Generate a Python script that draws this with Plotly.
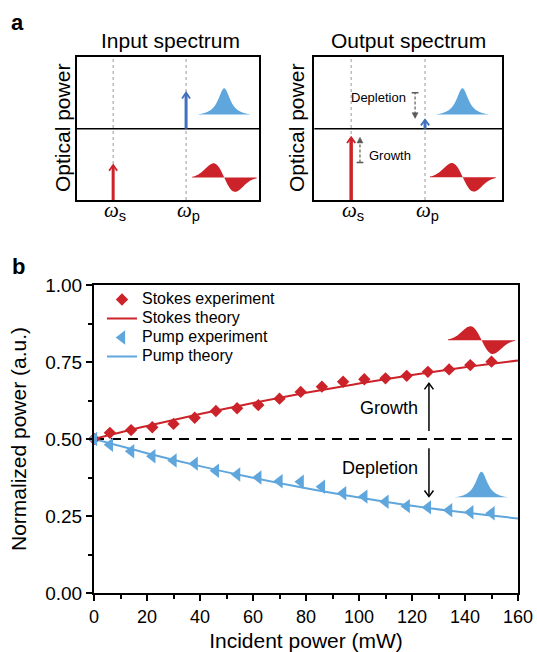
import numpy as np
import plotly.graph_objects as go

# ---------------- data (panel b) ----------------
incident_power = [0, 6, 14, 22, 30, 38, 46, 54, 62, 70, 78, 86, 94, 102, 110, 118, 126, 134, 142, 150]
stokes_experiment = [0.500, 0.520, 0.529, 0.538, 0.549, 0.569, 0.591, 0.600, 0.610, 0.631, 0.653,
                     0.670, 0.686, 0.694, 0.697, 0.705, 0.718, 0.726, 0.740, 0.751]
pump_experiment = [0.500, 0.481, 0.460, 0.444, 0.430, 0.420, 0.397, 0.385, 0.375, 0.363, 0.361,
                   0.345, 0.324, 0.313, 0.296, 0.282, 0.278, 0.269, 0.262, 0.259]
theory_power = [0, 20, 40, 60, 80, 100, 120, 140, 160]
stokes_theory = [0.500, 0.542, 0.581, 0.617, 0.650, 0.680, 0.708, 0.733, 0.755]
pump_theory = [0.500, 0.454, 0.412, 0.374, 0.340, 0.310, 0.283, 0.261, 0.242]
y_tick_values = [0.0, 0.25, 0.5, 0.75, 1.0]
y_tick_labels = ["0.00", "0.25", "0.50", "0.75", "1.00"]
legend_names = ["Stokes experiment", "Stokes theory", "Pump experiment", "Pump theory"]

RED = "#CC2229"
BLUE = "#5EA6DC"
DBLUE = "#4070BE"
GRAY = "#9a9a9a"
DGRAY = "#5a5a5a"
FONT = "Liberation Sans, Arial, sans-serif"

W, H = 537, 652


def PX(x):
    return x / W


def PY(y):
    return 1 - y / H


# ---------------- glyph helpers ----------------
def glyph_path(x0, x1, base, amp, kind, n=80):
    if kind == "peak":
        L = 3.6
        t = np.linspace(-L, L, n)
        f = 1 / (1 + t ** 2)
        f = (f - f[0]) / (1 - f[0])
    else:
        L = 3.0
        t = np.linspace(-L, L, n)
        f = -t * np.exp(-t ** 2 / 2) / np.exp(-0.5)
    xs = x0 + (t + L) / (2 * L) * (x1 - x0)
    ys = base + amp * f
    p = f"M {x0:.4f},{base:.4f} " + " ".join(f"L {a:.4f},{b:.4f}" for a, b in zip(xs, ys))
    p += f" L {x1:.4f},{base:.4f} Z"
    return p


shapes = []
annotations = []


def chevron(xr, yr, x, ytip, dx, dy, color, width, up=True):
    s = -1 if up else 1
    shapes.append(dict(type="path", xref=xr, yref=yr,
                       path=f"M {x-dx},{ytip + s*dy} L {x},{ytip} L {x+dx},{ytip + s*dy}",
                       line=dict(color=color, width=width)))


def tri(xr, yr, x, ytip, dx, dy, color, up=True):
    s = -1 if up else 1
    shapes.append(dict(type="path", xref=xr, yref=yr,
                       path=f"M {x-dx},{ytip + s*dy} L {x},{ytip} L {x+dx},{ytip + s*dy} Z",
                       fillcolor=color, line=dict(color=color, width=0.5)))


def vline(xr, yr, x, y0, y1, color, width, dash="solid"):
    shapes.append(dict(type="line", xref=xr, yref=yr, x0=x, x1=x, y0=y0, y1=y1,
                       line=dict(color=color, width=width, dash=dash)))


def text(t, x, y, size, xref="paper", yref="paper", xanchor="center", angle=0):
    annotations.append(dict(text=t, x=x, y=y, xref=xref, yref=yref, xanchor=xanchor, yanchor="middle",
                            showarrow=False, textangle=angle,
                            font=dict(size=size, color="black", family=FONT)))


# ---------------- panel a ----------------
for xr, yr, xs, xp in (("x", "y", 0.2, 0.6), ("x2", "y2", 0.196, 0.589)):
    shapes.append(dict(type="line", xref=f"{xr} domain", yref=yr, x0=0, x1=1, y0=0.5, y1=0.5,
                       line=dict(color="black", width=1.5)))
    vline(xr, yr, xs, 0, 1, GRAY, 1, "3px,3px")
    vline(xr, yr, xp, 0, 1, GRAY, 1, "3px,3px")

# left box arrows
vline("x", "y", 0.2, 0, 0.24, RED, 3)
chevron("x", "y", 0.2, 0.245, 0.022, 0.04, RED, 1.8)
vline("x", "y", 0.6, 0.5, 0.745, DBLUE, 3)
chevron("x", "y", 0.6, 0.752, 0.022, 0.04, DBLUE, 1.8)
shapes.append(dict(type="path", xref="x", yref="y", path=glyph_path(0.664, 0.954, 0.60, 0.183, "peak"),
                   fillcolor=BLUE, line=dict(width=0)))
shapes.append(dict(type="path", xref="x", yref="y", path=glyph_path(0.632, 0.987, 0.157, 0.10, "anti"),
                   fillcolor=RED, line=dict(width=0)))

# right box arrows
vline("x2", "y2", 0.196, 0, 0.432, RED, 3.5)
chevron("x2", "y2", 0.196, 0.439, 0.022, 0.04, RED, 1.8)
vline("x2", "y2", 0.589, 0.5, 0.556, DBLUE, 3)
chevron("x2", "y2", 0.589, 0.563, 0.022, 0.04, DBLUE, 1.8)
vline("x2", "y2", 0.536, 0.60, 0.752, DGRAY, 1.2, "3px,2px")
shapes.append(dict(type="line", xref="x2", yref="y2", x0=0.518, x1=0.554, y0=0.752, y1=0.752,
                   line=dict(color=DGRAY, width=1.5)))
tri("x2", "y2", 0.536, 0.572, 0.016, 0.04, DGRAY, up=False)
vline("x2", "y2", 0.243, 0.263, 0.41, DGRAY, 1.2, "3px,2px")
shapes.append(dict(type="line", xref="x2", yref="y2", x0=0.225, x1=0.261, y0=0.263, y1=0.263,
                   line=dict(color=DGRAY, width=1.5)))
tri("x2", "y2", 0.243, 0.44, 0.016, 0.04, DGRAY, up=True)
shapes.append(dict(type="path", xref="x2", yref="y2", path=glyph_path(0.647, 0.929, 0.60, 0.183, "peak"),
                   fillcolor=BLUE, line=dict(width=0)))
shapes.append(dict(type="path", xref="x2", yref="y2", path=glyph_path(0.615, 0.965, 0.159, 0.10, "anti"),
                   fillcolor=RED, line=dict(width=0)))

text("<b>a</b>", PX(17), PY(22), 22)
text("Input spectrum", PX(170), PY(41), 21)
text("Output spectrum", PX(408), PY(41), 21)
text("Optical power", PX(63), PY(128), 21, angle=-90)
text("Optical power", PX(297), PY(128), 21, angle=-90)
text("Depletion", 0.497, 0.72, 13, xref="x2", yref="y2", xanchor="right")
text("Growth", 0.28, 0.315, 13, xref="x2", yref="y2", xanchor="left")
text("<b>b</b>", PX(18), PY(266), 22)
omega = '<span style="font-family:Liberation Serif"><i>ω</i></span><sub>{}</sub>'
for xpx, sub in ((115, "s"), (188, "p"), (353, "s"), (427, "p")):
    text(omega.format(sub), PX(xpx), PY(211), 21)

# ---------------- panel b decorations ----------------
shapes.append(dict(type="line", xref="x3", yref="y3", x0=0, x1=160, y0=0.5, y1=0.5,
                   line=dict(color="black", width=2, dash="10px,7px"), layer="below"))
vline("x3", "y3", 126.4, 0.526, 0.679, "black", 1.5)
chevron("x3", "y3", 126.4, 0.681, 1.7, 0.02, "black", 1.5, up=True)
vline("x3", "y3", 126.4, 0.315, 0.470, "black", 1.5)
chevron("x3", "y3", 126.4, 0.313, 1.7, 0.02, "black", 1.5, up=False)
shapes.append(dict(type="path", xref="x3", yref="y3", path=glyph_path(133.6, 158.9, 0.821, 0.045, "anti"),
                   fillcolor=RED, line=dict(width=0)))
shapes.append(dict(type="path", xref="x3", yref="y3", path=glyph_path(136.2, 156.2, 0.311, 0.083, "peak"),
                   fillcolor=BLUE, line=dict(width=0)))
text("Growth", 123, 0.60, 18, xref="x3", yref="y3", xanchor="right")
text("Depletion", 123, 0.405, 18, xref="x3", yref="y3", xanchor="right")

# ---------------- traces ----------------
def lname(s):
    return f'<span style="font-size:16px">{s}</span>'


fig = go.Figure()
fig.add_trace(go.Scatter(x=[], y=[], xaxis="x", yaxis="y", showlegend=False))
fig.add_trace(go.Scatter(x=[], y=[], xaxis="x2", yaxis="y2", showlegend=False))
fig.add_trace(go.Scatter(x=theory_power, y=stokes_theory, mode="lines", name=lname(legend_names[1]),
                         line=dict(color=RED, width=2, shape="spline"), xaxis="x3", yaxis="y3",
                         legendrank=2))
fig.add_trace(go.Scatter(x=theory_power, y=pump_theory, mode="lines", name=lname(legend_names[3]),
                         line=dict(color=BLUE, width=2, shape="spline"), xaxis="x3", yaxis="y3",
                         legendrank=4))
fig.add_trace(go.Scatter(x=incident_power, y=stokes_experiment, mode="markers", name=lname(legend_names[0]),
                         marker=dict(symbol="diamond", size=9.5, color=RED), xaxis="x3", yaxis="y3",
                         cliponaxis=False, legendrank=1))
fig.add_trace(go.Scatter(x=incident_power, y=pump_experiment, mode="markers", name=lname(legend_names[2]),
                         marker=dict(symbol="triangle-left", size=12.5, color=BLUE), xaxis="x3", yaxis="y3",
                         cliponaxis=False, legendrank=3))

box_axis = dict(range=[0, 1], showline=True, mirror=True, linecolor="black", linewidth=1.5,
                showticklabels=False, ticks="", showgrid=False, zeroline=False, fixedrange=True,
                automargin=False)
ydom_a = [PY(200), PY(57.3)]

fig.update_layout(
    template="none",
    width=W, height=H, margin=dict(l=0, r=0, t=0, b=0, pad=0, autoexpand=False),
    paper_bgcolor="white", plot_bgcolor="rgba(0,0,0,0)",
    font=dict(family=FONT, color="black"),
    xaxis=dict(box_axis, domain=[PX(76.7), PX(259)], anchor="y"),
    yaxis=dict(box_axis, domain=ydom_a, anchor="x"),
    xaxis2=dict(box_axis, domain=[PX(314.3), PX(502.3)], anchor="y2"),
    yaxis2=dict(box_axis, domain=ydom_a, anchor="x2"),
    xaxis3=dict(domain=[PX(94), PX(518)], anchor="y3", range=[0, 160], tick0=0, dtick=20,
                showline=True, mirror=True, linecolor="black", linewidth=2, automargin=False,
                ticks="outside", ticklen=6, tickwidth=2, tickcolor="black",
                minor=dict(dtick=10, tick0=0, ticks="outside", ticklen=4, tickwidth=1.5, tickcolor="black"),
                showgrid=False, zeroline=False, tickfont=dict(size=18),
                title=dict(text="Incident power (mW)", font=dict(size=21), standoff=13)),
    yaxis3=dict(domain=[PY(593), PY(285)], anchor="x3", range=[0, 1], tickvals=y_tick_values,
                ticktext=y_tick_labels, automargin=False,
                showline=True, mirror=True, linecolor="black", linewidth=2,
                ticks="outside", ticklen=6, tickwidth=2, tickcolor="black",
                minor=dict(dtick=0.125, tick0=0, ticks="outside", ticklen=4, tickwidth=1.5, tickcolor="black"),
                showgrid=False, zeroline=False, tickfont=dict(size=19),
                title=dict(text="Normalized power (a.u.)", font=dict(size=21), standoff=13)),
    legend=dict(x=PX(102), y=PY(285), xanchor="left", yanchor="top", bgcolor="rgba(0,0,0,0)",
                font=dict(size=11), tracegroupgap=0, itemwidth=30, borderwidth=0),
    shapes=shapes, annotations=annotations,
)

fig.write_html("out.html", config={"displayModeBar": False},
               post_script="document.body.style.margin='0px';"
                           "document.documentElement.style.overflow='hidden';")
